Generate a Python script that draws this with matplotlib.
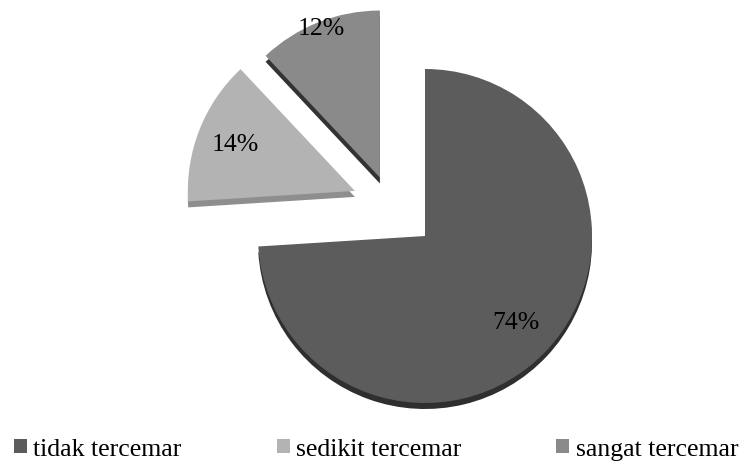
import numpy as np
import matplotlib.pyplot as plt

# data
labels = ['tidak tercemar', 'sedikit tercemar', 'sangat tercemar']
values = [74, 14, 12]
colors = ['#5c5c5c', '#b3b3b3', '#8a8a8a']
side_colors = ['#2f2f2f', '#8e8e8e', '#333333']
# offset of the pulled-out slices (x, y) as fraction of the radius
explode_xy = [(0, 0), (-0.42, 0.27), (-0.27, 0.35)]
label_dist = [0.75, 0.77, 0.96]

plt.rcParams['font.family'] = ['Liberation Serif', 'DejaVu Serif']

fig = plt.figure(figsize=(7.47, 4.64), dpi=100)
ax = fig.add_axes([0, 0, 1, 1])

cx, cy, r = 425, 227, 167


def pull_out(ws, base):
    for w, (dx, dy) in zip(ws, explode_xy):
        w.set_center((base[0] + dx * r, base[1] + dy * r))


# 3d-ish side: darker copy shifted a few px down
side, _ = ax.pie(values, colors=side_colors, startangle=90, counterclock=False,
                 center=(cx, cy - 6), radius=r,
                 wedgeprops=dict(linewidth=0), frame=True)
pull_out(side, (cx, cy - 6))

wedges, texts, autotexts = ax.pie(
    values, colors=colors, startangle=90, counterclock=False,
    center=(cx, cy), radius=r, autopct='%.0f%%',
    wedgeprops=dict(linewidth=0), frame=True,
    textprops=dict(fontsize=18.5, color='black'))
pull_out(wedges, (cx, cy))

# put the % labels where excel had them
for w, t, d in zip(wedges, autotexts, label_dist):
    ang = np.deg2rad((w.theta1 + w.theta2) / 2)
    x0, y0 = w.center
    t.set_position((x0 + d * r * np.cos(ang), y0 + d * r * np.sin(ang)))

ax.set_xlim(0, 747)
ax.set_ylim(0, 464)
ax.set_aspect('equal')
ax.axis('off')

fig.legend(wedges, labels, loc='center left', bbox_to_anchor=(14 / 747, 14 / 464),
           ncol=3, frameon=False, handlelength=0.5, handleheight=0.5,
           handletextpad=0.25, columnspacing=3.7, borderpad=0, borderaxespad=0,
           fontsize=18.5)

fig.savefig('out.png', dpi=100, facecolor='white')
